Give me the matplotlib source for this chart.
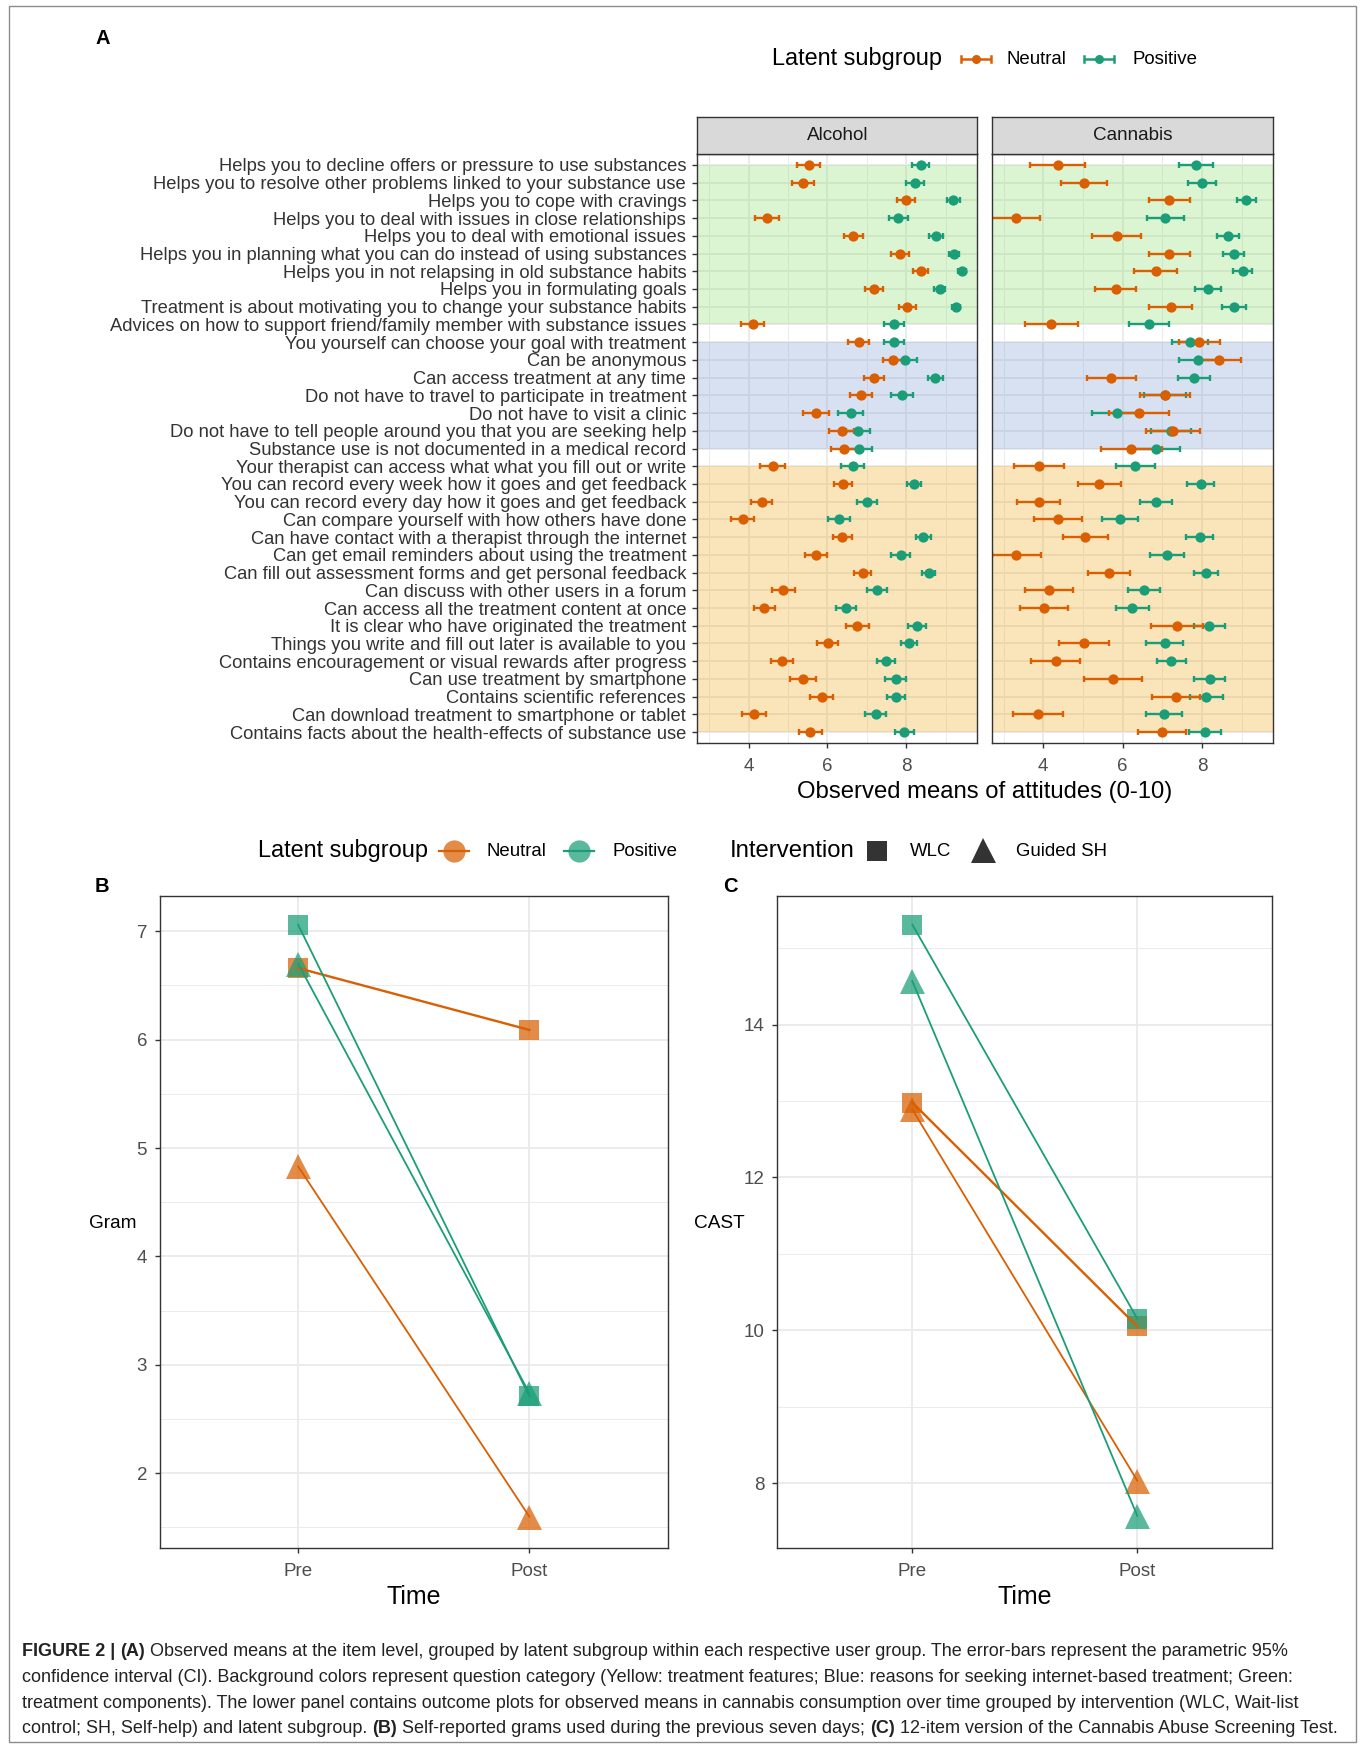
import matplotlib
matplotlib.use('Agg')
import matplotlib.pyplot as plt
import numpy as np
from matplotlib.patches import Rectangle

W, H = 1365, 1748
plt.rcParams['font.family'] = ['Liberation Sans', 'DejaVu Sans']

# ---------------- data: panel A ----------------
items = [
    "Helps you to decline offers or pressure to use substances",
    "Helps you to resolve other problems linked to your substance use",
    "Helps you to cope with cravings",
    "Helps you to deal with issues in close relationships",
    "Helps you to deal with emotional issues",
    "Helps you in planning what you can do instead of using substances",
    "Helps you in not relapsing in old substance habits",
    "Helps you in formulating goals",
    "Treatment is about motivating you to change your substance habits",
    "Advices on how to support friend/family member with substance issues",
    "You yourself can choose your goal with treatment",
    "Can be anonymous",
    "Can access treatment at any time",
    "Do not have to travel to participate in treatment",
    "Do not have to visit a clinic",
    "Do not have to tell people around you that you are seeking help",
    "Substance use is not documented in a medical record",
    "Your therapist can access what what you fill out or write",
    "You can record every week how it goes and get feedback",
    "You can record every day how it goes and get feedback",
    "Can compare yourself with how others have done",
    "Can have contact with a therapist through the internet",
    "Can get email reminders about using the treatment",
    "Can fill out assessment forms and get personal feedback",
    "Can discuss with other users in a forum",
    "Can access all the treatment content at once",
    "It is clear who have originated the treatment",
    "Things you write and fill out later is available to you",
    "Contains encouragement or visual rewards after progress",
    "Can use treatment by smartphone",
    "Contains scientific references",
    "Can download treatment to smartphone or tablet",
    "Contains facts about the health-effects of substance use",
]
item_category = (["Treatment components"] * 10 + ["Reasons"] * 7 + ["Treatment features"] * 16)

alc_neutral = [5.52, 5.38, 8.00, 4.46, 6.66, 7.84, 8.36, 7.18, 8.03, 4.11,
               6.79, 7.67, 7.18, 6.84, 5.70, 6.36, 6.41,
               4.61, 6.40, 4.33, 3.85, 6.38, 5.70, 6.89, 4.88, 4.40, 6.76, 6.01, 4.85, 5.38, 5.86, 4.14, 5.57]
alc_neutral_ci = [0.30, 0.27, 0.23, 0.30, 0.25, 0.22, 0.20, 0.23, 0.21, 0.29,
                  0.27, 0.26, 0.25, 0.28, 0.33, 0.31, 0.33,
                  0.31, 0.23, 0.26, 0.29, 0.25, 0.28, 0.22, 0.29, 0.26, 0.30, 0.27, 0.28, 0.34, 0.29, 0.31, 0.30]
alc_positive = [8.36, 8.22, 9.19, 7.80, 8.76, 9.21, 9.42, 8.85, 9.27, 7.69,
                7.69, 7.97, 8.73, 7.89, 6.59, 6.78, 6.81,
                6.64, 8.19, 7.00, 6.29, 8.43, 7.86, 8.57, 7.26, 6.47, 8.27, 8.06, 7.49, 7.73, 7.73, 7.22, 7.95]
alc_positive_ci = [0.22, 0.23, 0.16, 0.25, 0.18, 0.13, 0.10, 0.14, 0.10, 0.25,
                   0.25, 0.29, 0.19, 0.27, 0.32, 0.30, 0.33,
                   0.29, 0.18, 0.25, 0.28, 0.19, 0.24, 0.17, 0.25, 0.25, 0.23, 0.20, 0.23, 0.26, 0.23, 0.27, 0.24]

cann_neutral = [4.36, 5.02, 7.18, 3.31, 5.85, 7.18, 6.83, 5.83, 7.21, 4.20,
                7.93, 8.44, 5.72, 7.07, 6.42, 7.27, 6.22,
                3.90, 5.41, 3.89, 4.37, 5.06, 3.32, 5.65, 4.15, 4.02, 7.37, 5.02, 4.31, 5.76, 7.34, 3.87, 7.00]
cann_neutral_ci = [0.69, 0.58, 0.52, 0.62, 0.61, 0.52, 0.55, 0.52, 0.55, 0.67,
                   0.52, 0.55, 0.61, 0.63, 0.75, 0.67, 0.77,
                   0.63, 0.54, 0.54, 0.61, 0.56, 0.62, 0.53, 0.61, 0.61, 0.65, 0.63, 0.62, 0.73, 0.61, 0.63, 0.61]
cann_positive = [7.84, 8.01, 9.12, 7.08, 8.66, 8.80, 9.03, 8.16, 8.80, 6.67,
                 7.70, 7.90, 7.80, 7.07, 5.85, 7.22, 6.84,
                 6.32, 7.97, 6.84, 5.94, 7.95, 7.12, 8.11, 6.54, 6.25, 8.18, 7.06, 7.23, 8.20, 8.11, 7.04, 8.08]
cann_positive_ci = [0.43, 0.35, 0.24, 0.46, 0.27, 0.26, 0.24, 0.33, 0.30, 0.50,
                    0.46, 0.47, 0.40, 0.52, 0.62, 0.51, 0.60,
                    0.49, 0.34, 0.41, 0.46, 0.34, 0.43, 0.30, 0.41, 0.42, 0.39, 0.46, 0.37, 0.39, 0.41, 0.45, 0.41]

x_ticks_a = [4, 6, 8]

# ---------------- data: panels B and C ----------------
time_labels = ["Pre", "Post"]
gram_neutral_wlc = [6.66, 6.09]
gram_neutral_sh = [4.83, 1.60]
gram_positive_wlc = [7.06, 2.71]
gram_positive_sh = [6.70, 2.74]
cast_neutral_wlc = [12.98, 10.05]
cast_neutral_sh = [12.89, 8.03]
cast_positive_wlc = [15.31, 10.15]
cast_positive_sh = [14.57, 7.57]
gram_ticks = [2, 3, 4, 5, 6, 7]
cast_ticks = [8, 10, 12, 14]

# ---------------- styling ----------------
NEU = '#D95F02'
POS = '#1B9E77'
GRID = '#EBEBEB'
BORDER = '#333333'
TXT = '#4D4D4D'
CAT_COL = {"Treatment components": '#8ADE6C', "Reasons": '#809ED7', "Treatment features": '#F0A818'}

fig = plt.figure(figsize=(W / 100, H / 100), dpi=100)


def px_axes(l, t, r, b):
    return fig.add_axes([l / W, 1 - b / H, (r - l) / W, (b - t) / H])


n = len(items)
ypos = np.arange(n, 0, -1)
cats = np.array(item_category)


def attitude_panel(ax, neu, neu_ci, pos, pos_ci, labels):
    ax.set_xlim(2.7, 9.8)
    ax.set_ylim(0.4, n + 0.6)
    for v in [3, 5, 7, 9]:
        ax.axvline(v, color=GRID, lw=0.7, zorder=0)
    for v in x_ticks_a:
        ax.axvline(v, color=GRID, lw=1.4, zorder=0)
    for y in ypos:
        ax.axhline(y, color=GRID, lw=1.4, zorder=0)
    for c in dict.fromkeys(item_category):
        ys = ypos[cats == c]
        ax.axhspan(ys.min(), ys.max(), color=CAT_COL[c], alpha=0.3, lw=0, zorder=1)
    kw = dict(fmt='none', capsize=2.3, elinewidth=1.7, capthick=1.7, zorder=3)
    ax.errorbar(pos, ypos, xerr=pos_ci, ecolor=POS, **kw)
    ax.errorbar(neu, ypos, xerr=neu_ci, ecolor=NEU, **kw)
    ax.plot(pos, ypos, 'o', color=POS, ms=7.4, mew=0, zorder=4)
    ax.plot(neu, ypos, 'o', color=NEU, ms=7.4, mew=0, zorder=4)
    ax.set_xticks(x_ticks_a)
    ax.set_xticklabels([str(v) for v in x_ticks_a])
    ax.tick_params(axis='x', length=3.5, width=1, color=BORDER, labelsize=13.5, labelcolor=TXT, pad=7.5)
    if labels:
        ax.set_yticks(ypos)
        ax.set_yticklabels(items)
        ax.tick_params(axis='y', length=3.5, width=1, color=BORDER, labelsize=13.2, labelcolor='#333333', pad=4.5)
    else:
        ax.set_yticks([])
    for s in ax.spines.values():
        s.set_color(BORDER)
        s.set_linewidth(1.0)
        s.set_zorder(5)


def strip(l, t, r, b, text):
    sa = px_axes(l, t, r, b)
    sa.set_facecolor('#D9D9D9')
    sa.set_xticks([])
    sa.set_yticks([])
    for s in sa.spines.values():
        s.set_color(BORDER)
        s.set_linewidth(1.0)
    sa.text(0.5, 0.5, text, ha='center', va='center', fontsize=13.6, color='#1A1A1A', transform=sa.transAxes)


ax_alc = px_axes(697.3, 154.3, 977.3, 742.7)
attitude_panel(ax_alc, alc_neutral, alc_neutral_ci, alc_positive, alc_positive_ci, True)
ax_can = px_axes(991.7, 154.3, 1273.3, 742.7)
attitude_panel(ax_can, cann_neutral, cann_neutral_ci, cann_positive, cann_positive_ci, False)
strip(697.3, 116.7, 977.3, 154.3, "Alcohol")
strip(991.7, 116.7, 1273.3, 154.3, "Cannabis")


def outcome_panel(ax, series, ylim, major, minor):
    x = [1, 2]
    ax.set_xlim(0.4, 2.6)
    ax.set_ylim(*ylim)
    for v in minor:
        ax.axhline(v, color=GRID, lw=0.7, zorder=0)
    for v in major:
        ax.axhline(v, color=GRID, lw=1.4, zorder=0)
    for v in x:
        ax.axvline(v, color=GRID, lw=1.4, zorder=0)
    for vals, color, marker, ms, lw in series:
        ax.plot(x, vals, linestyle='none', marker=marker, ms=ms, color=color, alpha=0.72, mew=0, zorder=3)
    for vals, color, marker, ms, lw in series:
        ax.plot(x, vals, color=color, lw=lw, zorder=4)
    ax.set_xticks(x)
    ax.set_xticklabels(time_labels)
    ax.set_yticks(major)
    ax.set_yticklabels([str(v) for v in major])
    ax.tick_params(length=3.5, width=1, color=BORDER, labelsize=13.5, labelcolor=TXT)
    ax.tick_params(axis='x', pad=7.5)
    ax.tick_params(axis='y', pad=5.5)
    for s in ax.spines.values():
        s.set_color(BORDER)
        s.set_linewidth(1.0)


SQ, TR = 14.5, 18
ax_b = px_axes(159.5, 895.5, 668, 1548)
outcome_panel(ax_b, [
    (gram_neutral_wlc, NEU, 's', SQ, 1.7),
    (gram_neutral_sh, NEU, '^', TR, 1.3),
    (gram_positive_wlc, POS, 's', SQ, 1.3),
    (gram_positive_sh, POS, '^', TR, 1.3),
], (1.31, 7.33), gram_ticks, [1.5, 2.5, 3.5, 4.5, 5.5, 6.5])

ax_c = px_axes(777.3, 895.5, 1272.4, 1548)
outcome_panel(ax_c, [
    (cast_neutral_wlc, NEU, 's', SQ, 1.7),
    (cast_neutral_sh, NEU, '^', TR, 1.3),
    (cast_positive_wlc, POS, 's', SQ, 1.3),
    (cast_positive_sh, POS, '^', TR, 1.3),
], (7.15, 15.69), cast_ticks, [9, 11, 13, 15])

# ---------------- overlay: labels, legends, caption, frame ----------------
ov = fig.add_axes([0, 0, 1, 1])
ov.set_xlim(0, W)
ov.set_ylim(H, 0)
ov.axis('off')
ov.patch.set_visible(False)

ov.text(102.6, 38, "A", fontsize=14.5, fontweight='bold', ha='center', va='center')
ov.text(101.5, 887, "B", fontsize=14.5, fontweight='bold', ha='center', va='center')
ov.text(730.5, 887, "C", fontsize=14.5, fontweight='bold', ha='center', va='center')

ov.text(985, 792, "Observed means of attitudes (0-10)", fontsize=17.2, ha='center', va='center')
ov.text(413.8, 1597, "Time", fontsize=18, ha='center', va='center')
ov.text(1025, 1597, "Time", fontsize=18, ha='center', va='center')
ov.text(112.6, 1223, "Gram", fontsize=13.7, ha='center', va='center')
ov.text(719, 1223, "CAST", fontsize=13.7, ha='center', va='center')

# legend A
ly = 59
ov.text(772, ly, "Latent subgroup", fontsize=16.9, ha='left', va='center')
for cx, col, lab, tx in [(975.5, NEU, "Neutral", 1007), (1099, POS, "Positive", 1133)]:
    ov.plot([cx - 15, cx + 15], [ly, ly], color=col, lw=1.8, solid_capstyle='butt')
    ov.plot([cx - 15, cx - 15], [ly - 3, ly + 3], color=col, lw=1.8)
    ov.plot([cx + 15, cx + 15], [ly - 3, ly + 3], color=col, lw=1.8)
    ov.plot([cx], [ly], 'o', color=col, ms=6.5, mew=0)
    ov.text(tx, ly, lab, fontsize=13.4, ha='left', va='center')

# legend B/C
ly2 = 851
ov.text(257.6, ly2, "Latent subgroup", fontsize=16.9, ha='left', va='center')
for cx, col, lab, tx in [(454, NEU, "Neutral", 487), (579, POS, "Positive", 612)]:
    ov.plot([cx], [ly2], 'o', color=col, ms=16, mew=0, alpha=0.72)
    ov.plot([cx - 15, cx + 15], [ly2, ly2], color=col, lw=1.6)
    ov.text(tx, ly2, lab, fontsize=13.4, ha='left', va='center')
ov.text(730, ly2, "Intervention", fontsize=17.2, ha='left', va='center')
ov.plot([876.5], [ly2], 's', color='#333333', ms=15, mew=0)
ov.text(910, ly2, "WLC", fontsize=13.4, ha='left', va='center')
ov.plot([982.5], [ly2 - 1], '^', color='#333333', ms=18, mew=0)
ov.text(1016, ly2, "Guided SH", fontsize=13.4, ha='left', va='center')

# caption
caption_lines = [
    [("FIGURE 2 |", True), ("(A)", True),
     ("Observed means at the item level, grouped by latent subgroup within each respective user group. The error-bars represent the parametric 95%", False)],
    [("confidence interval (CI). Background colors represent question category (Yellow: treatment features; Blue: reasons for seeking internet-based treatment; Green:", False)],
    [("treatment components). The lower panel contains outcome plots for observed means in cannabis consumption over time grouped by intervention (WLC, Wait-list", False)],
    [("control; SH, Self-help) and latent subgroup.", False), ("(B)", True),
     ("Self-reported grams used during the previous seven days;", False), ("(C)", True),
     ("12-item version of the Cannabis Abuse Screening Test.", False)],
]
caption_y = [1651.6, 1677, 1703, 1728.6]
renderer = fig.canvas.get_renderer()


def text_w(s, fs, bold):
    t = ov.text(0, 0, s, fontsize=fs, fontweight='bold' if bold else 'normal')
    w = t.get_window_extent(renderer).width
    t.remove()
    return w


def line_w(segs, fs):
    sp = text_w("a a", fs, False) - text_w("aa", fs, False)
    return sum(text_w(s, fs, b) for s, b in segs) + sp * (len(segs) - 1), sp


base = 12.0
w0, _ = line_w(caption_lines[0], base)
cap_fs = base * 1268.0 / w0
for segs, yy in zip(caption_lines, caption_y):
    _, sp = line_w(segs, cap_fs)
    x = 22
    for s, b in segs:
        t = ov.text(x, yy, s, fontsize=cap_fs, fontweight='bold' if b else 'normal',
                    ha='left', va='center', color='#222222')
        x += t.get_window_extent(renderer).width + sp

ov.add_patch(Rectangle((9, 6), 1347, 1736, fill=False, ec='#8C8C8C', lw=1.0))

fig.savefig('out.png', dpi=100)
